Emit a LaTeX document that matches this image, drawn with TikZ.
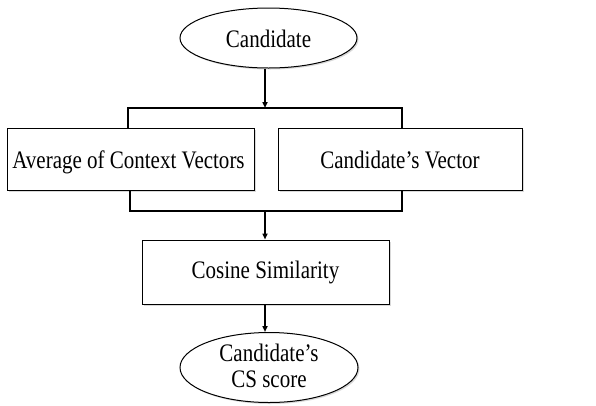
\documentclass[tikz,border=0pt]{standalone}
\usepackage{fontspec}
\setmainfont{Liberation Serif}
\usetikzlibrary{shapes.geometric,arrows.meta,shadows}
\newcommand\vtxt[1]{\scalebox{1}[1.2]{\begin{tabular}{@{}c@{}}#1\end{tabular}}}
\begin{document}
\begin{tikzpicture}[x=1pt,y=-1pt,
  every node/.style={font=\fontsize{21}{20}\selectfont, inner sep=0pt, align=center},
  shade/.style={drop shadow={shadow xshift=1.5pt,shadow yshift=-1.5pt,opacity=0.25,fill=black!60}},
  boxnode/.style={draw, line width=1pt, fill=white, rectangle, shade},
  ovalnode/.style={draw, line width=1pt, fill=white, ellipse, shade},
  arr/.style={line width=1.6pt, -{Triangle[length=6pt,width=5pt]}},
  bracket/.style={line width=2.2pt}]
\useasboundingbox (0,0) rectangle (596,405);
\node[ovalnode, minimum width=177pt, minimum height=60pt] (cand) at (268.5,38) {};
\node[yshift=-4pt] (candtext) at (cand) {\vtxt{Candidate}};
\node[boxnode, minimum width=247pt, minimum height=62pt] (avg) at (130.5,159) {};
\node[xshift=-2pt, yshift=-4pt] (avgtext) at (avg) {\vtxt{Average of Context Vectors}};
\node[boxnode, minimum width=244pt, minimum height=62pt] (vec) at (400,159) {};
\node[yshift=-4pt] (vectext) at (vec) {\vtxt{Candidate’s Vector}};
\node[boxnode, minimum width=247pt, minimum height=64pt] (cos) at (265.5,272) {};
\node[yshift=-1.5pt] (costext) at (cos) {\vtxt{Cosine Similarity}};
\node[ovalnode, minimum width=178pt, minimum height=70pt] (score) at (269,367.5) {};
\node[yshift=-2pt, font=\fontsize{21}{22}\selectfont] (scoretext) at (score) {\vtxt{Candidate’s\\CS score}};
\coordinate (topL) at (128,108);
\coordinate (topR) at (402,108);
\coordinate (topM) at (265,108);
\coordinate (botL) at (130,211);
\coordinate (botR) at (402,211);
\coordinate (botM) at (265,211);
\draw[arr] (cand.south -| topM) -- (topM);
\draw[bracket] (avg.north -| topL) -- (topL) -- (topR) -- (vec.north -| topR);
\draw[bracket] (avg.south -| botL) -- (botL) -- (botR) -- (vec.south -| botR);
\draw[arr] (botM) -- (cos.north -| botM);
\draw[arr] (cos.south -| botM) -- (score.north -| botM);
\end{tikzpicture}
\end{document}
